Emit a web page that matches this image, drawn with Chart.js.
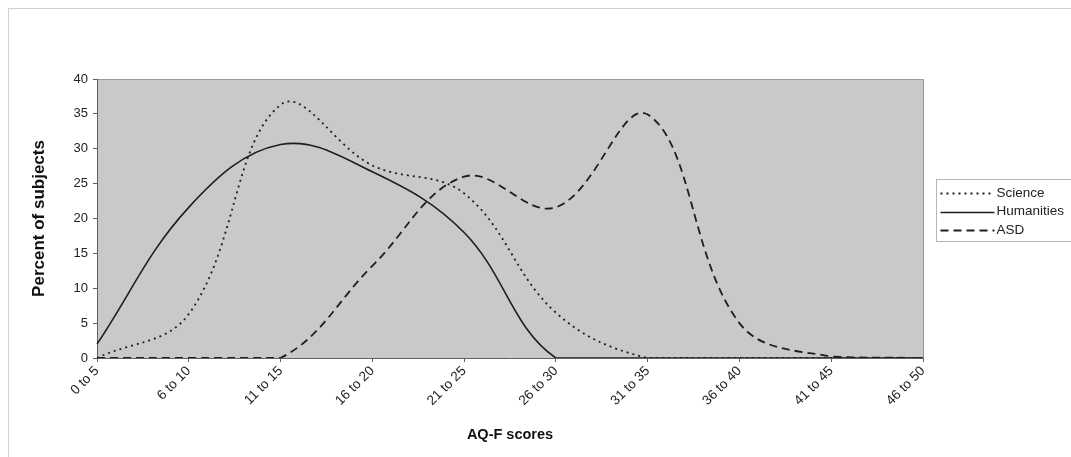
<!DOCTYPE html>
<html>
<head>
<meta charset="utf-8">
<script src="https://cdn.jsdelivr.net/npm/chart.js@4/dist/chart.umd.min.js"></script>
<style>
  html, body { margin: 0; padding: 0; background: #ffffff; }
  #wrap { width: 1071px; height: 457px; position: relative; }
</style>
</head>
<body>
<div id="wrap"><canvas id="c" width="1071" height="457"></canvas></div>
<script>
// ---- data ----
const categories = ["0 to 5", "6 to 10", "11 to 15", "16 to 20", "21 to 25", "26 to 30", "31 to 35", "36 to 40", "41 to 45", "46 to 50"];
const scienceValues    = [0, 6.3, 36.3, 27.6, 23.6, 6.5, 0, 0, 0, 0];
const humanitiesValues = [2, 21.6, 30.6, 26.7, 18, 0, 0, 0, 0, 0];
const asdValues        = [0, 0, 0, 13.2, 26, 21.6, 34.9, 5, 0.2, 0];
const seriesNames = ["Science", "Humanities", "ASD"];
const yTicks = [0, 5, 10, 15, 20, 25, 30, 35, 40];
const xTitle = "AQ-F scores";
const yTitle = "Percent of subjects";

const LINE = "#1e1e1e";
const FONT = "'Liberation Sans', Arial, sans-serif";

const frame = {
  id: "frame",
  beforeDraw(chart) {
    const ctx = chart.ctx, a = chart.chartArea;
    ctx.save();
    ctx.fillStyle = "#ffffff";
    ctx.fillRect(0, 0, chart.width, chart.height);
    // outer chart border
    ctx.strokeStyle = "#d0d0d0";
    ctx.lineWidth = 1;
    ctx.strokeRect(8.5, 8.5, chart.width + 20, chart.height + 20);
    // plot area
    ctx.fillStyle = "#c9c9c9";
    ctx.fillRect(a.left, a.top, a.right - a.left, a.bottom - a.top);
    ctx.strokeStyle = "#9a9a9a";
    ctx.beginPath();
    ctx.moveTo(a.left, a.top + 0.5); ctx.lineTo(a.right + 0.5, a.top + 0.5);
    ctx.lineTo(a.right + 0.5, a.bottom);
    ctx.stroke();
    ctx.restore();
  },
  afterDraw(chart) {
    // legend box (drawn from the datasets)
    const ctx = chart.ctx, a = chart.chartArea;
    const bx = a.right + 13.5, by = 179.5, bw = 140, bh = 62;
    ctx.save();
    ctx.fillStyle = "#ffffff";
    ctx.fillRect(bx, by, bw, bh);
    ctx.strokeStyle = "#b5b5b5";
    ctx.lineWidth = 1;
    ctx.strokeRect(bx, by, bw, bh);
    ctx.font = "13.5px " + FONT;
    ctx.textBaseline = "middle";
    ctx.fillStyle = "#222";
    chart.data.datasets.forEach((ds, i) => {
      const y = 193 + i * 18.6;
      ctx.save();
      ctx.strokeStyle = ds.borderColor;
      ctx.lineWidth = ds.borderWidth;
      ctx.setLineDash(ds.borderDash || []);
      ctx.beginPath();
      ctx.moveTo(bx + 4, Math.round(y) + 0.5);
      ctx.lineTo(bx + 58, Math.round(y) + 0.5);
      ctx.stroke();
      ctx.restore();
      ctx.fillText(ds.label, bx + 60, y);
    });
    ctx.restore();
  }
};

const seriesValues = [scienceValues, humanitiesValues, asdValues];
const dashes = [[2, 4], [], [8, 5]];

new Chart(document.getElementById("c"), {
  type: "line",
  data: {
    labels: categories,
    datasets: seriesNames.map((name, i) => ({
      label: name,
      data: seriesValues[i],
      borderColor: LINE,
      borderWidth: i === 1 ? 1.6 : 1.8,
      borderDash: dashes[i],
      pointRadius: 0,
      tension: 0.38,
      fill: false
    }))
  },
  options: {
    responsive: false,
    animation: false,
    layout: { padding: { left: 0, right: 148, top: 79, bottom: 0 } },
    plugins: { legend: { display: false }, tooltip: { enabled: false } },
    scales: {
      x: {
        type: "category",
        offset: false,
        afterFit(s) { s.height = 99; },
        grid: { drawOnChartArea: false, drawTicks: true, tickLength: 4, color: "#606060" },
        border: { display: true, color: "#606060", width: 1 },
        ticks: {
          autoSkip: false, minRotation: 45, maxRotation: 45, padding: 1,
          color: "#222", font: { family: FONT, size: 13.5 }
        },
        title: {
          display: true, text: xTitle, color: "#111",
          font: { family: FONT, size: 14.5, weight: "bold" },
          padding: { top: 0, bottom: 13 }
        }
      },
      y: {
        min: 0, max: 40,
        afterFit(s) { s.width = 97; },
        afterBuildTicks(s) { s.ticks = yTicks.map(v => ({ value: v })); },
        grid: { drawOnChartArea: false, drawTicks: true, tickLength: 4, color: "#606060" },
        border: { display: true, color: "#606060", width: 1 },
        ticks: { padding: 5, color: "#222", font: { family: FONT, size: 13 } },
        title: {
          display: true, text: yTitle, color: "#111",
          font: { family: FONT, size: 17, weight: "bold" },
          padding: { top: 29, bottom: 0 }
        }
      }
    }
  },
  plugins: [frame]
});
</script>
</body>
</html>
